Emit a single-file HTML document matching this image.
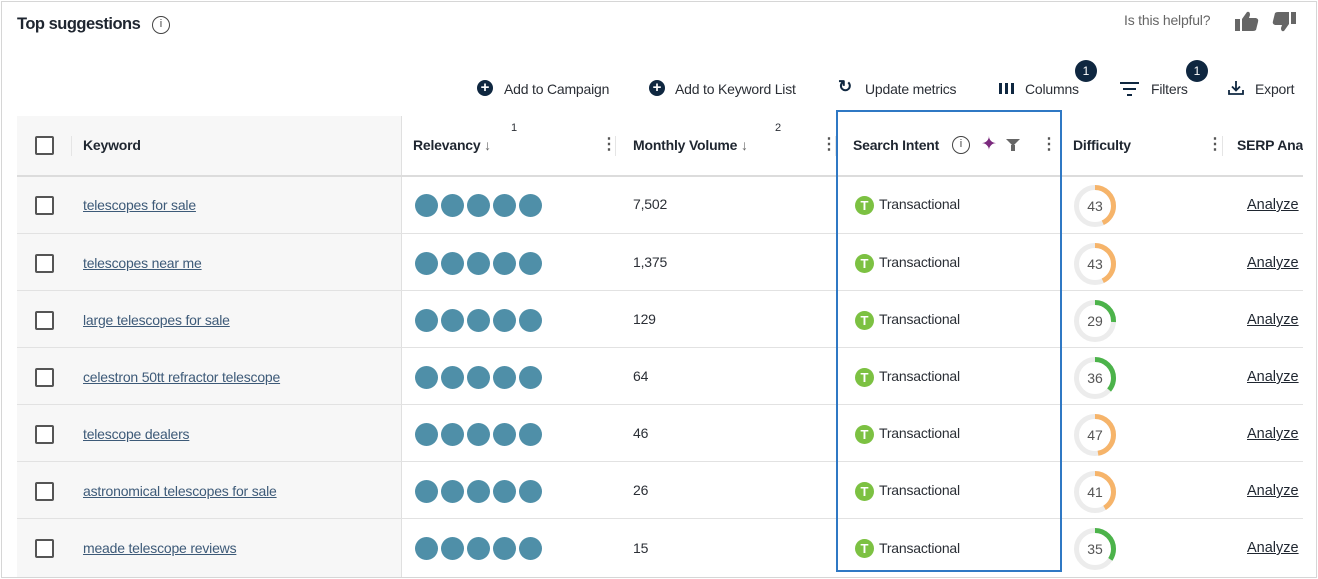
<!DOCTYPE html>
<html><head><meta charset="utf-8">
<style>
*{box-sizing:border-box;margin:0;padding:0}
body{width:1318px;height:579px;background:#fff;font-family:"Liberation Sans",sans-serif;color:#2b2f36;position:relative;overflow:hidden}
.a{position:absolute;white-space:nowrap}
.frame{left:1px;top:1px;width:1316px;height:577px;border:1px solid #d6d6d6}
.t{font-size:14px;letter-spacing:-0.2px}
.hd{font-size:14px;font-weight:bold;color:#1f2630;letter-spacing:-0.2px}
.kw{color:#3d5a78;text-decoration:underline;font-size:14px;letter-spacing:-0.2px}
.cb{width:19px;height:19px;border:2px solid #555;border-radius:2px;background:#fff}
.dot{width:23px;height:23px;border-radius:50%;background:#4f8fa8;display:inline-block;margin-right:3px}
.hl{height:1px;background:#e2e2e2}
.vl{width:1px;background:#e5e5e5}
.tb{width:19px;height:19px;border-radius:50%;background:#7cc142;color:#fff;font-weight:bold;font-size:13px;text-align:center;line-height:19px}
.plus{width:16px;height:16px;border-radius:50%;background:#0f2740;color:#fff;font-size:15px;font-weight:bold;text-align:center;line-height:16px}
.badge{width:22px;height:22px;border-radius:50%;background:#0f2740;color:#fff;font-size:12px;text-align:center;line-height:22px}
.kebab{font-size:16px;color:#555;font-weight:bold}
.an{color:#1f2630;text-decoration:underline;font-size:14.5px}
</style></head><body>
<div class="a frame"></div>
<div class="a hd" style="left:17px;top:15px;font-size:16.5px;letter-spacing:-0.5px">Top suggestions</div>
<div class="a" style="left:152px;top:16px;width:18px;height:18px;border:1.5px solid #444;border-radius:50%;font-size:11px;text-align:center;line-height:15px;color:#444">i</div>
<div class="a t" style="left:1124px;top:12px;color:#666">Is this helpful?</div>
<svg class="a" style="left:1234px;top:10px" width="26" height="24"><rect x="1" y="9" width="5" height="12" fill="#666"/><path d="M8 9 L13 2 Q16 1 16 5 L15 8 L22 8 Q25 9 24 12 L22 20 Q21 21 19 21 L8 21 Z" fill="#666"/></svg>
<svg class="a" style="left:1271px;top:10px" width="26" height="24"><rect x="20" y="2" width="5" height="12" fill="#666"/><path d="M18 14 L13 21 Q10 22 10 18 L11 15 L4 15 Q1 14 2 11 L4 3 Q5 2 7 2 L18 2 Z" fill="#666"/></svg>

<!-- toolbar -->
<div class="a plus" style="left:477px;top:80px">+</div><div class="a t" style="left:504px;top:81px">Add to Campaign</div>
<div class="a plus" style="left:649px;top:80px">+</div><div class="a t" style="left:675px;top:81px">Add to Keyword List</div>
<div class="a" style="left:838px;top:77px;font-size:17px;font-weight:bold;color:#0f2740">&#8635;</div><div class="a t" style="left:865px;top:81px">Update metrics</div>
<div class="a" style="left:999px;top:83px;width:3px;height:11px;background:#0f2740"></div>
<div class="a" style="left:1005px;top:83px;width:3px;height:11px;background:#0f2740"></div>
<div class="a" style="left:1011px;top:83px;width:3px;height:11px;background:#0f2740"></div>
<div class="a t" style="left:1025px;top:81px">Columns</div><div class="a badge" style="left:1075px;top:60px">1</div>
<div class="a" style="left:1120px;top:82px;width:19px;height:2px;background:#0f2740"></div>
<div class="a" style="left:1123px;top:88px;width:13px;height:2px;background:#0f2740"></div>
<div class="a" style="left:1127px;top:94px;width:5px;height:2px;background:#0f2740"></div>
<div class="a t" style="left:1151px;top:81px">Filters</div><div class="a badge" style="left:1186px;top:60px">1</div>
<svg class="a" style="left:1227px;top:79px" width="18" height="18"><path d="M9 2 V11 M5 7.5 L9 11.5 L13 7.5 M2 11 V15 H16 V11" fill="none" stroke="#0f2740" stroke-width="1.8"/></svg>
<div class="a t" style="left:1255px;top:81px">Export</div>

<!-- keyword column bg -->
<div class="a" style="left:17px;top:116px;width:384px;height:461px;background:#f7f7f7"></div>
<div class="a" style="left:401px;top:116px;width:1px;height:461px;background:#e0e0e0"></div>
<div class="a hl" style="left:17px;top:175px;width:1286px;background:#dcdcdc;height:2px"></div>

<!-- header -->
<div class="a cb" style="left:35px;top:136px"></div>
<div class="a vl" style="left:71px;top:136px;height:20px"></div>
<div class="a hd" style="left:83px;top:137px">Keyword</div>
<div class="a hd" style="left:413px;top:137px">Relevancy <span style="font-weight:normal;color:#666">&#8595;</span></div>
<div class="a" style="left:511px;top:122px;font-size:11px">1</div>
<div class="a kebab" style="left:601px;top:134px">&#8942;</div>
<div class="a vl" style="left:615px;top:136px;height:20px"></div>
<div class="a hd" style="left:633px;top:137px">Monthly Volume <span style="font-weight:normal;color:#666">&#8595;</span></div>
<div class="a" style="left:775px;top:122px;font-size:11px">2</div>
<div class="a kebab" style="left:821px;top:134px">&#8942;</div>
<div class="a vl" style="left:835px;top:136px;height:20px"></div>
<div class="a hd" style="left:853px;top:137px">Search Intent</div>
<div class="a" style="left:952px;top:136px;width:18px;height:18px;border:1.5px solid #444;border-radius:50%;font-size:11px;text-align:center;line-height:15px;color:#444">i</div>
<div class="a" style="left:981px;top:133px;font-size:19px;color:#7b2a7e">&#10022;</div>
<div class="a" style="left:1006px;top:139px;width:0;height:0;border-left:7px solid transparent;border-right:7px solid transparent;border-top:7px solid #666"></div>
<div class="a" style="left:1011px;top:145px;width:4px;height:6px;background:#666"></div>
<div class="a kebab" style="left:1041px;top:134px">&#8942;</div>
<div class="a hd" style="left:1073px;top:137px">Difficulty</div>
<div class="a kebab" style="left:1207px;top:134px">&#8942;</div>
<div class="a vl" style="left:1222px;top:136px;height:20px"></div>
<div class="a" style="left:1237px;top:137px;width:66px;overflow:hidden"><span class="hd">SERP Analysis</span></div>

<!-- row lines -->
<div class="a hl" style="left:17px;top:233px;width:1286px"></div>
<div class="a hl" style="left:17px;top:290px;width:1286px"></div>
<div class="a hl" style="left:17px;top:347px;width:1286px"></div>
<div class="a hl" style="left:17px;top:404px;width:1286px"></div>
<div class="a hl" style="left:17px;top:461px;width:1286px"></div>
<div class="a hl" style="left:17px;top:518px;width:1286px"></div>

<!-- blue highlight -->
<div class="a" style="left:836px;top:110px;width:226px;height:462px;border:2px solid #2f78c4"></div>

<!-- row 1 -->
<div class="a cb" style="left:35px;top:196px"></div><div class="a kw" style="left:83px;top:197px">telescopes for sale</div>
<div class="a" style="left:415px;top:194px"><span class="dot"></span><span class="dot"></span><span class="dot"></span><span class="dot"></span><span class="dot"></span></div>
<div class="a t" style="left:633px;top:196px">7,502</div>
<div class="a tb" style="left:855px;top:196px">T</div><div class="a t" style="left:879px;top:196px">Transactional</div>
<svg class="a" style="left:1073px;top:184px" width="44" height="44"><circle cx="22" cy="22" r="18.5" fill="none" stroke="#ececec" stroke-width="5"/><circle cx="22" cy="22" r="18.5" fill="none" stroke="#f6b46a" stroke-width="5" stroke-dasharray="50 200" transform="rotate(-90 22 22)"/><text x="22" y="27" text-anchor="middle" font-size="14" fill="#555" font-family="Liberation Sans">43</text></svg>
<div class="a an" style="left:1247px;top:197px">Analyze</div>
<!-- row 2 -->
<div class="a cb" style="left:35px;top:254px"></div><div class="a kw" style="left:83px;top:255px">telescopes near me</div>
<div class="a" style="left:415px;top:252px"><span class="dot"></span><span class="dot"></span><span class="dot"></span><span class="dot"></span><span class="dot"></span></div>
<div class="a t" style="left:633px;top:254px">1,375</div>
<div class="a tb" style="left:855px;top:254px">T</div><div class="a t" style="left:879px;top:254px">Transactional</div>
<svg class="a" style="left:1073px;top:242px" width="44" height="44"><circle cx="22" cy="22" r="18.5" fill="none" stroke="#ececec" stroke-width="5"/><circle cx="22" cy="22" r="18.5" fill="none" stroke="#f6b46a" stroke-width="5" stroke-dasharray="50 200" transform="rotate(-90 22 22)"/><text x="22" y="27" text-anchor="middle" font-size="14" fill="#555" font-family="Liberation Sans">43</text></svg>
<div class="a an" style="left:1247px;top:255px">Analyze</div>
<!-- row 3 -->
<div class="a cb" style="left:35px;top:311px"></div><div class="a kw" style="left:83px;top:312px">large telescopes for sale</div>
<div class="a" style="left:415px;top:309px"><span class="dot"></span><span class="dot"></span><span class="dot"></span><span class="dot"></span><span class="dot"></span></div>
<div class="a t" style="left:633px;top:311px">129</div>
<div class="a tb" style="left:855px;top:311px">T</div><div class="a t" style="left:879px;top:311px">Transactional</div>
<svg class="a" style="left:1073px;top:299px" width="44" height="44"><circle cx="22" cy="22" r="18.5" fill="none" stroke="#ececec" stroke-width="5"/><circle cx="22" cy="22" r="18.5" fill="none" stroke="#4cb34a" stroke-width="5" stroke-dasharray="30 200" transform="rotate(-90 22 22)"/><text x="22" y="27" text-anchor="middle" font-size="14" fill="#555" font-family="Liberation Sans">29</text></svg>
<div class="a an" style="left:1247px;top:312px">Analyze</div>
<!-- row 4 -->
<div class="a cb" style="left:35px;top:368px"></div><div class="a kw" style="left:83px;top:369px">celestron 50tt refractor telescope</div>
<div class="a" style="left:415px;top:366px"><span class="dot"></span><span class="dot"></span><span class="dot"></span><span class="dot"></span><span class="dot"></span></div>
<div class="a t" style="left:633px;top:368px">64</div>
<div class="a tb" style="left:855px;top:368px">T</div><div class="a t" style="left:879px;top:368px">Transactional</div>
<svg class="a" style="left:1073px;top:356px" width="44" height="44"><circle cx="22" cy="22" r="18.5" fill="none" stroke="#ececec" stroke-width="5"/><circle cx="22" cy="22" r="18.5" fill="none" stroke="#4cb34a" stroke-width="5" stroke-dasharray="42 200" transform="rotate(-90 22 22)"/><text x="22" y="27" text-anchor="middle" font-size="14" fill="#555" font-family="Liberation Sans">36</text></svg>
<div class="a an" style="left:1247px;top:369px">Analyze</div>
<!-- row 5 -->
<div class="a cb" style="left:35px;top:425px"></div><div class="a kw" style="left:83px;top:426px">telescope dealers</div>
<div class="a" style="left:415px;top:423px"><span class="dot"></span><span class="dot"></span><span class="dot"></span><span class="dot"></span><span class="dot"></span></div>
<div class="a t" style="left:633px;top:425px">46</div>
<div class="a tb" style="left:855px;top:425px">T</div><div class="a t" style="left:879px;top:425px">Transactional</div>
<svg class="a" style="left:1073px;top:413px" width="44" height="44"><circle cx="22" cy="22" r="18.5" fill="none" stroke="#ececec" stroke-width="5"/><circle cx="22" cy="22" r="18.5" fill="none" stroke="#f6b46a" stroke-width="5" stroke-dasharray="55 200" transform="rotate(-90 22 22)"/><text x="22" y="27" text-anchor="middle" font-size="14" fill="#555" font-family="Liberation Sans">47</text></svg>
<div class="a an" style="left:1247px;top:426px">Analyze</div>
<!-- row 6 -->
<div class="a cb" style="left:35px;top:482px"></div><div class="a kw" style="left:83px;top:483px">astronomical telescopes for sale</div>
<div class="a" style="left:415px;top:480px"><span class="dot"></span><span class="dot"></span><span class="dot"></span><span class="dot"></span><span class="dot"></span></div>
<div class="a t" style="left:633px;top:482px">26</div>
<div class="a tb" style="left:855px;top:482px">T</div><div class="a t" style="left:879px;top:482px">Transactional</div>
<svg class="a" style="left:1073px;top:470px" width="44" height="44"><circle cx="22" cy="22" r="18.5" fill="none" stroke="#ececec" stroke-width="5"/><circle cx="22" cy="22" r="18.5" fill="none" stroke="#f6b46a" stroke-width="5" stroke-dasharray="48 200" transform="rotate(-90 22 22)"/><text x="22" y="27" text-anchor="middle" font-size="14" fill="#555" font-family="Liberation Sans">41</text></svg>
<div class="a an" style="left:1247px;top:483px">Analyze</div>
<!-- row 7 -->
<div class="a cb" style="left:35px;top:539px"></div><div class="a kw" style="left:83px;top:540px">meade telescope reviews</div>
<div class="a" style="left:415px;top:537px"><span class="dot"></span><span class="dot"></span><span class="dot"></span><span class="dot"></span><span class="dot"></span></div>
<div class="a t" style="left:633px;top:540px">15</div>
<div class="a tb" style="left:855px;top:539px">T</div><div class="a t" style="left:879px;top:540px">Transactional</div>
<svg class="a" style="left:1073px;top:527px" width="44" height="44"><circle cx="22" cy="22" r="18.5" fill="none" stroke="#ececec" stroke-width="5"/><circle cx="22" cy="22" r="18.5" fill="none" stroke="#4cb34a" stroke-width="5" stroke-dasharray="40 200" transform="rotate(-90 22 22)"/><text x="22" y="27" text-anchor="middle" font-size="14" fill="#555" font-family="Liberation Sans">35</text></svg>
<div class="a an" style="left:1247px;top:540px">Analyze</div>
</body></html>
